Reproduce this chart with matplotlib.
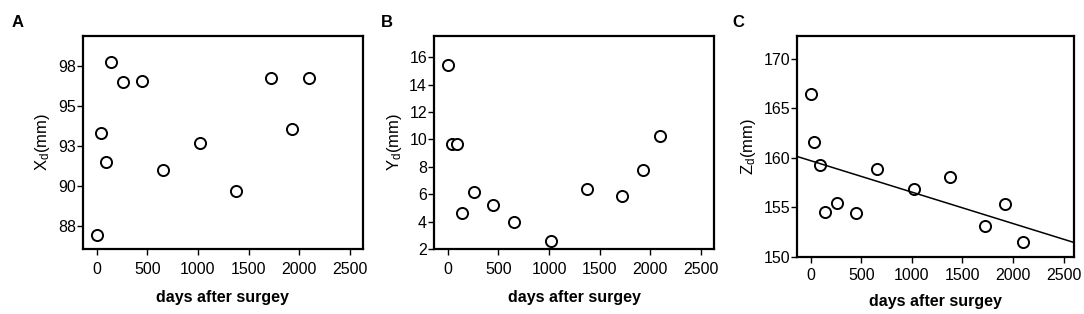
import numpy as np
import matplotlib
matplotlib.use("Agg")
import matplotlib.pyplot as plt

plt.rcParams['font.family'] = ['Liberation Sans', 'DejaVu Sans']
plt.rcParams['mathtext.fontset'] = 'custom'
plt.rcParams['mathtext.rm'] = 'Liberation Sans'
plt.rcParams['mathtext.it'] = 'Liberation Sans'

# days after surgery (shared by all three panels)
days = [7, 38, 89, 144, 257, 447, 655, 1023, 1375, 1725, 1924, 2097]

# displacement values
x_d = [86.9, 93.3, 91.5, 97.7, 96.5, 96.55, 91.0, 92.7, 89.7, 96.75, 93.55, 96.75]
y_d = [15.4, 9.65, 9.7, 4.6, 6.15, 5.2, 4.0, 2.55, 6.4, 5.9, 7.75, 10.25]
z_d = [166.4, 161.55, 159.25, 154.55, 155.4, 154.45, 158.9, 156.85, 158.05, 153.15, 155.35, 151.45]

x_ticks = [0, 500, 1000, 1500, 2000, 2500]
a_ticks = [87.5, 90, 92.5, 95, 97.5]
a_ticklabels = ['88', '90', '93', '95', '98']
b_ticks = [2, 4, 6, 8, 10, 12, 14, 16]
c_ticks = [150, 155, 160, 165, 170]

fig = plt.figure(figsize=(10.84, 3.14), dpi=100)

axA = fig.add_axes([0.0763, 0.2070, 0.2583, 0.6783])
axB = fig.add_axes([0.4004, 0.2070, 0.2586, 0.6783])
axC = fig.add_axes([0.7355, 0.1825, 0.2555, 0.7029])


def style(ax, xpad, lpad):
    for s in ax.spines.values():
        s.set_linewidth(1.6)
    ax.tick_params(direction='out', length=4, width=1, labelsize=11.5, colors='black')
    ax.tick_params(axis='x', pad=xpad)
    ax.tick_params(axis='y', pad=1)
    ax.set_xticks(x_ticks)
    ax.set_xlabel('days after surgey', fontsize=11.5, fontweight='bold', labelpad=lpad)


mk = dict(marker='o', linestyle='none', markersize=8, markerfacecolor='white',
          markeredgecolor='black', markeredgewidth=1.4)

# A
axA.plot(days, x_d, **mk)
axA.set_xlim(-138, 2626)
axA.set_ylim(86.05, 99.35)
axA.set_yticks(a_ticks)
axA.set_yticklabels(a_ticklabels)
axA.set_ylabel('X$_\\mathrm{d}$(mm)', fontsize=12, labelpad=4)
style(axA, 5, 10)

# B
axB.plot(days, y_d, **mk)
axB.set_xlim(-135, 2632)
axB.set_ylim(2, 17.55)
axB.set_yticks(b_ticks)
axB.set_ylabel('Y$_\\mathrm{d}$(mm)', fontsize=12, labelpad=4)
style(axB, 5, 10)

# C with linear fit
axC.plot(days, z_d, **mk)
slope, icpt = np.polyfit(days, z_d, 1)
xl = np.array([-132, 2605])
axC.plot(xl, icpt + slope * xl, color='black', linewidth=1.1)
axC.set_xlim(-132, 2605)
axC.set_ylim(150, 172.3)
axC.set_yticks(c_ticks)
axC.set_ylabel('Z$_\\mathrm{d}$(mm)', fontsize=12, labelpad=4)
style(axC, 4, 8)

fig.text(0.011, 0.914, 'A', fontsize=12, fontweight='bold')
fig.text(0.351, 0.914, 'B', fontsize=12, fontweight='bold')
fig.text(0.676, 0.914, 'C', fontsize=12, fontweight='bold')

fig.savefig('out.png', dpi=100)
